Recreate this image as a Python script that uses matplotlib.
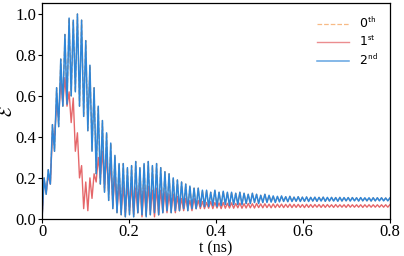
import numpy as np
import matplotlib
matplotlib.use('Agg')
import matplotlib.pyplot as plt

plt.rcParams['font.family'] = ['Liberation Serif', 'DejaVu Serif']
plt.rcParams['mathtext.fontset'] = 'cm'

# time range (ns) and number of oscillation periods seen in the picture
t_end = 0.8
n_periods = 84

# 2nd order: trough (start of each period) and peak values
second_lo = [0.00, 0.12, 0.17, 0.33, 0.45, 0.55, 0.56, 0.60, 0.62, 0.55,
             0.50, 0.43, 0.33, 0.22, 0.17, 0.13, 0.09, 0.05, 0.03, 0.02,
             0.01, 0.02, 0.01, 0.03, 0.02, 0.01, 0.02, 0.03, 0.02, 0.03,
             0.04, 0.03, 0.04, 0.04, 0.05, 0.04, 0.05, 0.05, 0.06, 0.06,
             0.06, 0.065, 0.06, 0.065, 0.07, 0.065, 0.07, 0.07, 0.07, 0.075,
             0.075, 0.08, 0.075, 0.08, 0.08, 0.082, 0.08, 0.083, 0.085, 0.084,
             0.085, 0.086, 0.085, 0.086, 0.085, 0.087, 0.086, 0.087, 0.086, 0.087,
             0.087, 0.086, 0.087, 0.088, 0.087, 0.088, 0.087, 0.088, 0.088, 0.087,
             0.088, 0.088, 0.088, 0.088]
second_hi = [0.20, 0.24, 0.46, 0.64, 0.78, 0.90, 0.98, 0.97, 1.00, 0.97,
             0.87, 0.75, 0.64, 0.55, 0.48, 0.42, 0.37, 0.31, 0.27, 0.27,
             0.25, 0.26, 0.28, 0.25, 0.27, 0.28, 0.26, 0.27, 0.25, 0.23,
             0.22, 0.20, 0.19, 0.18, 0.17, 0.16, 0.15, 0.15, 0.14, 0.14,
             0.13, 0.14, 0.13, 0.135, 0.13, 0.13, 0.125, 0.13, 0.125, 0.12,
             0.125, 0.12, 0.115, 0.12, 0.115, 0.112, 0.11, 0.112, 0.108, 0.11,
             0.106, 0.108, 0.106, 0.107, 0.105, 0.106, 0.105, 0.106, 0.105, 0.105,
             0.104, 0.105, 0.104, 0.104, 0.104, 0.103, 0.104, 0.103, 0.103, 0.103,
             0.103, 0.103, 0.102, 0.102]

# 1st order
first_lo = [0.00, 0.13, 0.17, 0.40, 0.50, 0.56, 0.55, 0.47, 0.33, 0.20,
            0.05, 0.04, 0.10, 0.18, 0.20, 0.15, 0.13, 0.07, 0.04, 0.03,
            0.02, 0.04, 0.02, 0.03, 0.01, 0.02, 0.03, 0.01, 0.02, 0.03,
            0.03, 0.04, 0.03, 0.04, 0.04, 0.05, 0.04, 0.05, 0.05, 0.05,
            0.052, 0.05, 0.053, 0.05, 0.052, 0.053, 0.052, 0.054, 0.052, 0.053,
            0.054, 0.053, 0.055, 0.054, 0.055, 0.054, 0.055, 0.056, 0.055, 0.056,
            0.055, 0.056, 0.056, 0.055, 0.056, 0.056, 0.057, 0.056, 0.056, 0.057,
            0.056, 0.057, 0.057, 0.056, 0.057, 0.057, 0.057, 0.056, 0.057, 0.057,
            0.057, 0.057, 0.057, 0.057]
first_hi = [0.19, 0.21, 0.42, 0.55, 0.67, 0.69, 0.62, 0.59, 0.42, 0.26,
            0.18, 0.20, 0.22, 0.30, 0.33, 0.31, 0.28, 0.22, 0.17, 0.16,
            0.17, 0.16, 0.15, 0.17, 0.15, 0.16, 0.14, 0.15, 0.14, 0.13,
            0.12, 0.12, 0.11, 0.10, 0.10, 0.09, 0.10, 0.09, 0.085, 0.08,
            0.085, 0.08, 0.078, 0.08, 0.076, 0.078, 0.075, 0.077, 0.074, 0.075,
            0.074, 0.075, 0.073, 0.074, 0.072, 0.073, 0.072, 0.072, 0.071, 0.072,
            0.071, 0.071, 0.07, 0.071, 0.07, 0.07, 0.07, 0.07, 0.07, 0.069,
            0.07, 0.069, 0.069, 0.07, 0.069, 0.069, 0.069, 0.069, 0.069, 0.069,
            0.069, 0.069, 0.069, 0.069]

# 0th order lies on top of the 2nd order curve in the picture
zeroth_lo = second_lo
zeroth_hi = second_hi

labels = ['0$^{\\mathsf{th}}$', '1$^{\\mathsf{st}}$', '2$^{\\mathsf{nd}}$']
xticks = [0, 0.2, 0.4, 0.6, 0.8]
xticklabels = ['0', '0.2', '0.4', '0.6', '0.8']
yticks = [0.0, 0.2, 0.4, 0.6, 0.8, 1.0]


def trace(lo, hi):
    # alternate trough / peak for each period
    vals = np.empty(2 * len(lo))
    vals[0::2] = lo
    vals[1::2] = hi
    return vals


t = np.linspace(0, t_end, 2 * n_periods)

fig = plt.figure(figsize=(4.04, 2.56), dpi=100)
ax = fig.add_axes([0.104, 0.145, 0.861, 0.842])

ax.plot(t, trace(zeroth_lo, zeroth_hi), color='#f5a35c', lw=0.9, ls='--', label=labels[0])
ax.plot(t, trace(first_lo, first_hi), color='#e5676a', lw=1.0, label=labels[1])
ax.plot(t, trace(second_lo, second_hi), color='#2f86d8', lw=1.1, label=labels[2])

ax.set_xlim(0, t_end)
ax.set_ylim(0, 1.052)
ax.set_xticks(xticks)
ax.set_xticklabels(xticklabels)
ax.set_yticks(yticks)
ax.set_yticklabels(['%.1f' % v for v in yticks])
ax.tick_params(length=3, width=0.8, pad=1, labelsize=12)
for s in ax.spines.values():
    s.set_linewidth(0.9)

ax.set_xlabel('t (ns)', fontsize=11.5, labelpad=0)
ax.set_ylabel(r'$\mathcal{E}$', fontsize=13)
ax.yaxis.set_label_coords(-0.075, 0.5)

leg = ax.legend(loc='upper right', frameon=False, handlelength=2.5,
                borderaxespad=0.6, labelspacing=0.3,
                prop={'family': 'DejaVu Sans', 'size': 9})
for h in leg.legend_handles:
    h.set_alpha(0.75)

fig.savefig('out.png', dpi=100)
